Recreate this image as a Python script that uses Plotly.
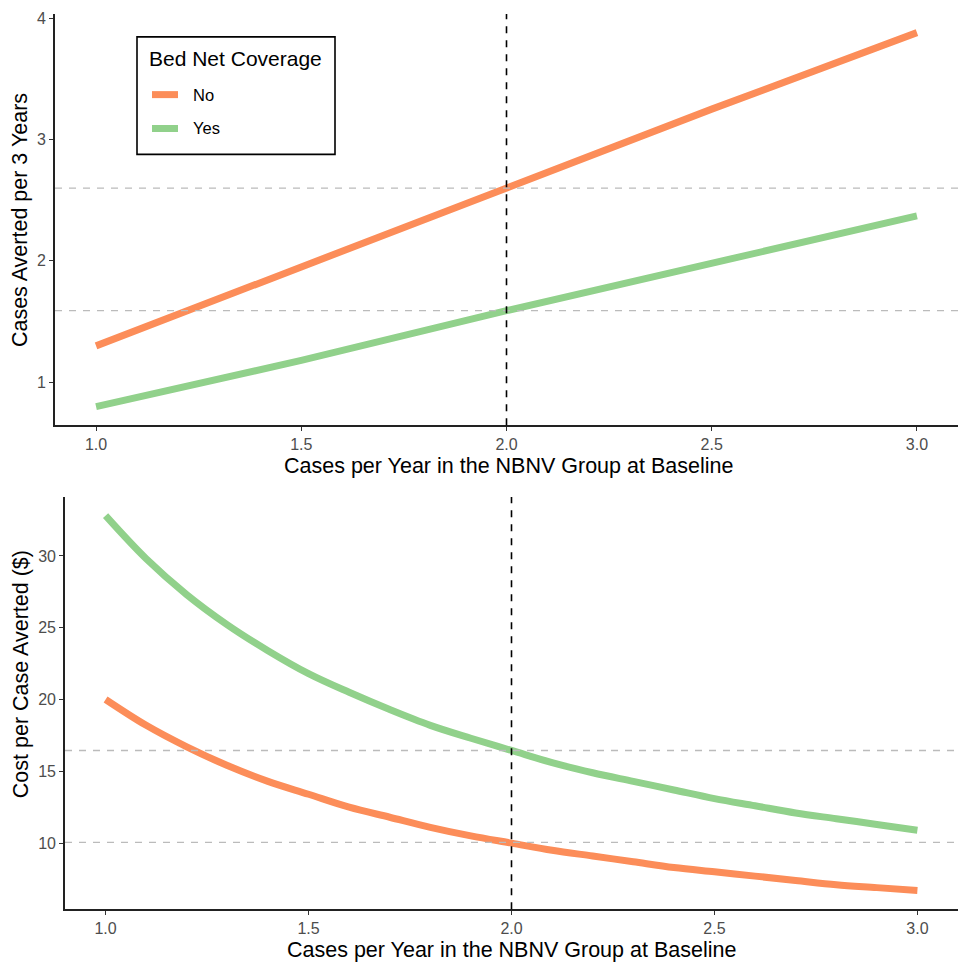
import plotly.graph_objects as go

# ---------------- data ----------------
baseline_top = [1.0, 1.5, 2.0, 2.5, 3.0]
averted_no = [1.30, 1.95, 2.60, 3.25, 3.88]
averted_yes = [0.80, 1.18, 1.59, 1.98, 2.37]

baseline_bot = [1.0, 1.1, 1.2, 1.3, 1.4, 1.5, 1.6, 1.7, 1.8, 1.9, 2.0,
                2.1, 2.2, 2.3, 2.4, 2.5, 2.6, 2.7, 2.8, 2.9, 3.0]
cost_no = [20.0, 18.2, 16.7, 15.4, 14.3, 13.4, 12.5, 11.8, 11.1, 10.5, 10.0,
           9.5, 9.1, 8.7, 8.3, 8.0, 7.7, 7.4, 7.1, 6.9, 6.7]
cost_yes = [32.8, 29.8, 27.3, 25.2, 23.4, 21.8, 20.5, 19.3, 18.2, 17.3, 16.45,
            15.6, 14.9, 14.3, 13.7, 13.1, 12.6, 12.1, 11.7, 11.3, 10.9]

ref_x = 2.0
ref_top = [2.60, 1.59]
ref_bot = [16.45, 10.05]

series_names = ["No", "Yes"]
legend_title = "Bed Net Coverage"
x_title = "Cases per Year in the NBNV Group at Baseline"
y_title_top = "Cases Averted per 3 Years"
y_title_bot = "Cost per Case Averted ($)"
x_ticks = [1.0, 1.5, 2.0, 2.5, 3.0]
y_ticks_top = [1, 2, 3, 4]
y_ticks_bot = [10, 15, 20, 25, 30]

# ---------------- style ----------------
C_NO = "#FC8D59"
C_YES = "#91D18B"
COLORS = [C_NO, C_YES]
FONT = "Liberation Sans, Arial, sans-serif"
W, H = 958, 965
LW = 7


def px_x(p):
    return p / W


def px_y(p):
    return 1 - p / H


def expand(vals, frac=0.05):
    lo, hi = min(vals), max(vals)
    s = hi - lo
    return [lo - frac * s, hi + frac * s]


fig = go.Figure()

fig.add_trace(go.Scatter(x=baseline_top, y=averted_no, mode="lines", name=series_names[0],
                         line=dict(color=C_NO, width=LW), showlegend=False,
                         xaxis="x", yaxis="y"))
fig.add_trace(go.Scatter(x=baseline_top, y=averted_yes, mode="lines", name=series_names[1],
                         line=dict(color=C_YES, width=LW), showlegend=False,
                         xaxis="x", yaxis="y"))
fig.add_trace(go.Scatter(x=baseline_bot, y=cost_no, mode="lines", name=series_names[0],
                         line=dict(color=C_NO, width=LW, shape="spline"), showlegend=False,
                         xaxis="x2", yaxis="y2"))
fig.add_trace(go.Scatter(x=baseline_bot, y=cost_yes, mode="lines", name=series_names[1],
                         line=dict(color=C_YES, width=LW, shape="spline"), showlegend=False,
                         xaxis="x2", yaxis="y2"))

shapes = []
for v in ref_top:
    shapes.append(dict(type="line", xref="x domain", yref="y", x0=0, x1=1, y0=v, y1=v,
                       line=dict(color="#BBBBBB", width=1.3, dash="7px,7px"), layer="above"))
for v in ref_bot:
    shapes.append(dict(type="line", xref="x2 domain", yref="y2", x0=0, x1=1, y0=v, y1=v,
                       line=dict(color="#BBBBBB", width=1.3, dash="7px,7px"), layer="above"))
shapes.append(dict(type="line", xref="x", yref="y domain", x0=ref_x, x1=ref_x, y0=0, y1=1,
                   line=dict(color="black", width=1.6, dash="7px,7px"), layer="above"))
shapes.append(dict(type="line", xref="x2", yref="y2 domain", x0=ref_x, x1=ref_x, y0=0, y1=1,
                   line=dict(color="black", width=1.6, dash="7px,7px"), layer="above"))

# legend box (drawn to match the ggplot legend)
shapes.append(dict(type="rect", xref="paper", yref="paper",
                   x0=px_x(137), x1=px_x(335), y0=px_y(151), y1=px_y(33),
                   line=dict(color="black", width=1.6), fillcolor="white", layer="above"))
legend_rows_y = [91, 125]
for name, col, yy in zip(series_names, COLORS, legend_rows_y):
    shapes.append(dict(type="line", xref="paper", yref="paper",
                       x0=px_x(152), x1=px_x(178), y0=px_y(yy), y1=px_y(yy),
                       line=dict(color=col, width=7), layer="above"))

axis_common = dict(showgrid=False, zeroline=False, showline=True, linecolor="#222222",
                   linewidth=1.6, ticks="outside", ticklen=4, tickwidth=1.2,
                   tickcolor="#333333", tickfont=dict(family=FONT, size=16, color="#4D4D4D"))

title_font = dict(family=FONT, size=21.5, color="black")
annotations = [
    dict(text=x_title, x=px_x(508), y=px_y(464), xref="paper", yref="paper",
         xanchor="center", yanchor="middle", showarrow=False, font=title_font),
    dict(text=x_title, x=px_x(512), y=px_y(950), xref="paper", yref="paper",
         xanchor="center", yanchor="middle", showarrow=False, font=title_font),
    dict(text=y_title_top, x=px_x(20), y=px_y(217), xref="paper", yref="paper",
         xanchor="center", yanchor="middle", showarrow=False, textangle=-90, font=title_font),
    dict(text=y_title_bot, x=px_x(21), y=px_y(673), xref="paper", yref="paper",
         xanchor="center", yanchor="middle", showarrow=False, textangle=-90, font=title_font),
    dict(text=legend_title, x=px_x(147), y=px_y(55), xref="paper", yref="paper",
         xanchor="left", yanchor="middle", showarrow=False,
         font=dict(family=FONT, size=21, color="black")),
]
for name, yy in zip(series_names, legend_rows_y):
    annotations.append(dict(text=name, x=px_x(191), y=px_y(yy), xref="paper", yref="paper",
                            xanchor="left", yanchor="middle", showarrow=False,
                            font=dict(family=FONT, size=16.5, color="black")))

fig.update_layout(
    width=W, height=H,
    margin=dict(l=0, r=0, t=0, b=0),
    paper_bgcolor="white", plot_bgcolor="white",
    font=dict(family=FONT),
    showlegend=False,
    xaxis=dict(domain=[px_x(55), 1], range=[0.9, 3.1], tickvals=x_ticks,
               ticktext=[f"{v:.1f}" for v in x_ticks], anchor="y", **axis_common),
    yaxis=dict(domain=[px_y(423), px_y(10)], range=expand(averted_no + averted_yes),
               tickvals=y_ticks_top, anchor="x", **axis_common),
    xaxis2=dict(domain=[px_x(65), 1], range=[0.9, 3.1], tickvals=x_ticks,
                ticktext=[f"{v:.1f}" for v in x_ticks], anchor="y2", **axis_common),
    yaxis2=dict(domain=[px_y(909), px_y(495)], range=expand(cost_no + cost_yes),
                tickvals=y_ticks_bot, anchor="x2", **axis_common),
    shapes=shapes,
    annotations=annotations,
)

fig.write_html("out.html",
               config={"displayModeBar": False},
               post_script="document.body.style.margin='0px';document.body.style.overflow='hidden';")
